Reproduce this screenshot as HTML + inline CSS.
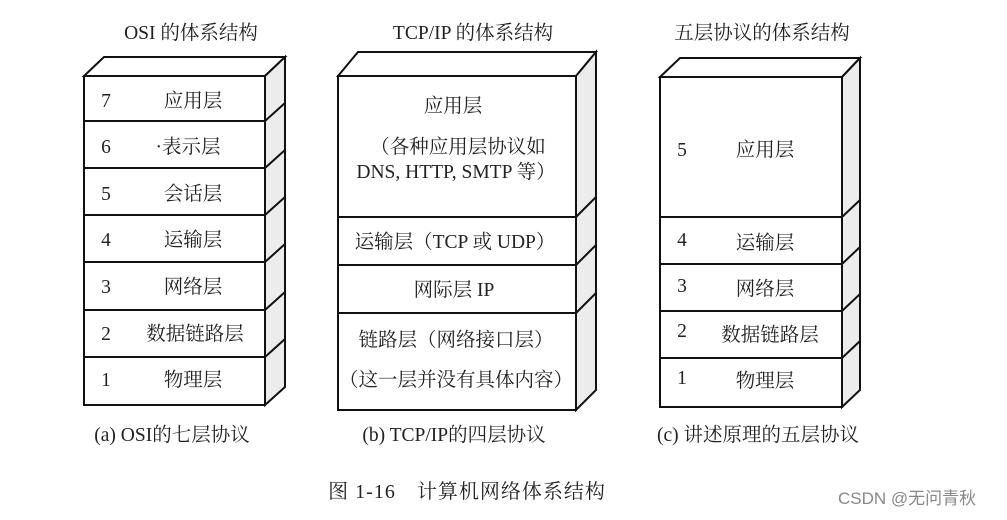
<!DOCTYPE html>
<html><head><meta charset="utf-8"><style>
html,body{margin:0;padding:0;background:#fff;}
svg text{font-family:"Liberation Serif","Noto Serif CJK SC",serif;fill:#222;}
</style></head><body>
<svg width="1007" height="515" viewBox="0 0 1007 515" xmlns="http://www.w3.org/2000/svg">
<g stroke="#111" stroke-width="2" fill="none">
<polygon points="84,76 104,57 285,57 265,76" fill="#fff"/>
<polygon points="265,76 285,57 285,387 265,405" fill="#ececec"/>
<rect x="84" y="76" width="181" height="329" fill="#fff"/>
<path d="M84,121H265M84,168H265M84,215H265M84,262H265M84,310H265M84,357H265"/>
<path d="M265,121L285,103M265,168L285,150M265,215L285,197M265,262L285,244M265,310L285,292M265,357L285,339"/>
<polygon points="338,76 358,52 596,52 576,76" fill="#fff"/>
<polygon points="576,76 596,52 596,390 576,410" fill="#ececec"/>
<rect x="338" y="76" width="238" height="334" fill="#fff"/>
<path d="M338,217H576M338,265H576M338,313H576"/>
<path d="M576,217L596,197M576,265L596,245M576,313L596,293"/>
<polygon points="660,77 680,58 860,58 842,77" fill="#fff"/>
<polygon points="842,77 860,58 860,390 842,407" fill="#ececec"/>
<rect x="660" y="77" width="182" height="330" fill="#fff"/>
<path d="M660,217H842M660,264H842M660,311H842M660,358H842"/>
<path d="M842,217L860,200M842,264L860,247M842,311L860,294M842,358L860,341"/>
</g>
<g font-size="19.5">
<text x="191" y="39" text-anchor="middle">OSI 的体系结构</text>
<text x="473" y="39" text-anchor="middle">TCP/IP 的体系结构</text>
<text x="762" y="39" text-anchor="middle">五层协议的体系结构</text>
<g text-anchor="middle">
<text x="106" y="107">7</text><text x="193" y="107">应用层</text>
<text x="106" y="153">6</text><text x="188" y="153">·表示层</text>
<text x="106" y="200">5</text><text x="193" y="200">会话层</text>
<text x="106" y="246">4</text><text x="193" y="246">运输层</text>
<text x="106" y="293">3</text><text x="193" y="293">网络层</text>
<text x="106" y="340">2</text><text x="195" y="340">数据链路层</text>
<text x="106" y="386">1</text><text x="193" y="386">物理层</text>
<text x="453" y="112">应用层</text>
<text x="458" y="153">（各种应用层协议如</text>
<text x="456" y="178">DNS, HTTP, SMTP 等）</text>
<text x="455" y="248">运输层（TCP 或 UDP）</text>
<text x="454" y="296">网际层 IP</text>
<text x="456" y="346">链路层（网络接口层）</text>
<text x="456" y="386">（这一层并没有具体内容）</text>
<text x="682" y="156">5</text><text x="765" y="156">应用层</text>
<text x="682" y="246">4</text><text x="765" y="249">运输层</text>
<text x="682" y="292">3</text><text x="765" y="295">网络层</text>
<text x="682" y="337">2</text><text x="770" y="341">数据链路层</text>
<text x="682" y="384">1</text><text x="765" y="387">物理层</text>
<text x="172" y="441">(a) OSI的七层协议</text>
<text x="454" y="441">(b) TCP/IP的四层协议</text>
<text x="758" y="441">(c) 讲述原理的五层协议</text>
</g>
</g>
<text x="467" y="498" font-size="20" text-anchor="middle" letter-spacing="1">图 1-16　计算机网络体系结构</text>
<text x="838" y="504" font-size="17" style="font-family:'Liberation Sans','Noto Sans CJK SC',sans-serif;fill:#888">CSDN @无问青秋</text>
</svg>
</body></html>
